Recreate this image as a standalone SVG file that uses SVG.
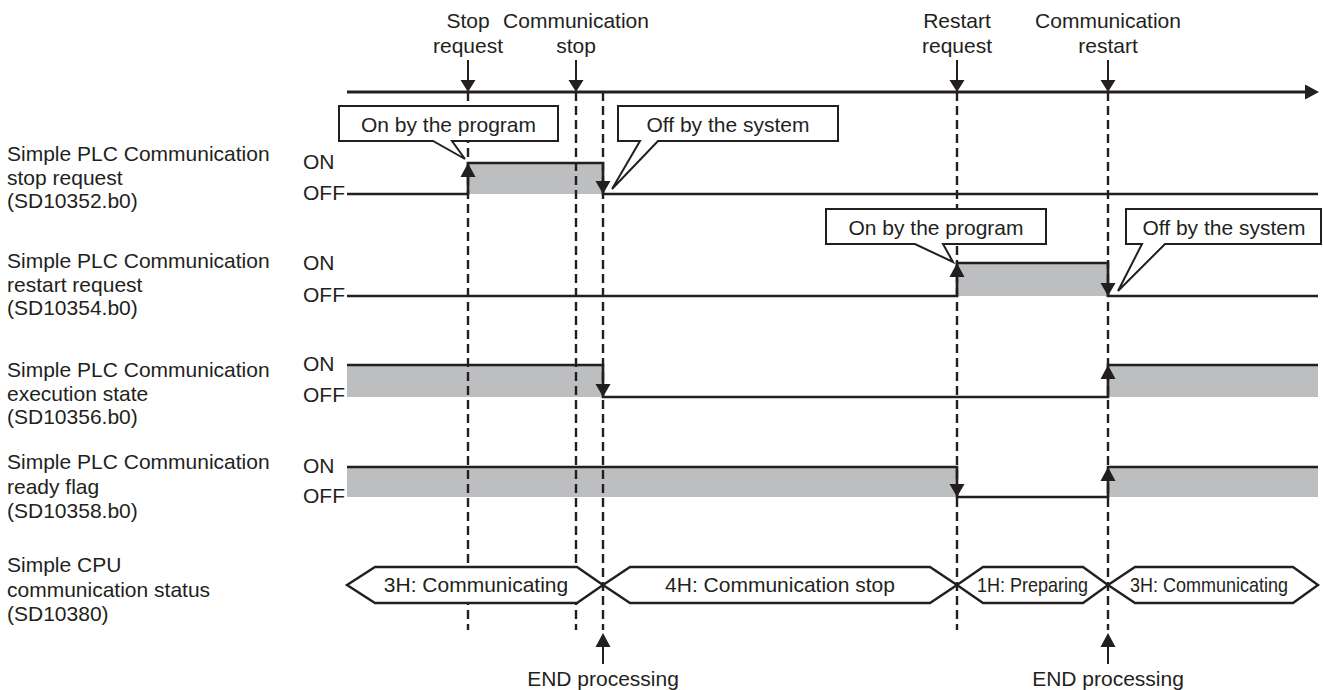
<svg xmlns="http://www.w3.org/2000/svg" width="1323" height="690" viewBox="0 0 1323 690">
<style>
text{font-family:"Liberation Sans",Arial,sans-serif;font-size:21px;fill:#231f20}
.c{text-anchor:middle}
.fill{fill:#bcbec0;stroke:none}
.sig{fill:none;stroke:#231f20;stroke-width:2.6}
.dash{fill:none;stroke:#231f20;stroke-width:2.4;stroke-dasharray:9 5}
.ah{fill:#231f20;stroke:none}
.box{fill:#fff;stroke:#231f20;stroke-width:2}
.bus{fill:#fff;stroke:#231f20;stroke-width:2.4;stroke-linejoin:miter}
.ln{stroke:#231f20;stroke-width:2}
</style>
<rect width="1323" height="690" fill="#fff"/>
<g id="labels">
<text x="7" y="161">Simple PLC Communication</text>
<text x="7" y="185">stop request</text>
<text x="7" y="208">(SD10352.b0)</text>
<text x="7" y="268">Simple PLC Communication</text>
<text x="7" y="292">restart request</text>
<text x="7" y="315">(SD10354.b0)</text>
<text x="7" y="377">Simple PLC Communication</text>
<text x="7" y="401">execution state</text>
<text x="7" y="424">(SD10356.b0)</text>
<text x="7" y="469">Simple PLC Communication</text>
<text x="7" y="494">ready flag</text>
<text x="7" y="518">(SD10358.b0)</text>
<text x="7" y="572">Simple CPU</text>
<text x="7" y="597">communication status</text>
<text x="7" y="621">(SD10380)</text>
<text x="303" y="169">ON</text>
<text x="303" y="200">OFF</text>
<text x="303" y="270">ON</text>
<text x="303" y="302">OFF</text>
<text x="303" y="371">ON</text>
<text x="303" y="402">OFF</text>
<text x="303" y="473">ON</text>
<text x="303" y="503">OFF</text>
</g>
<g id="fills">
<rect class="fill" x="468" y="163" width="135" height="31"/>
<rect class="fill" x="957" y="263" width="151" height="33"/>
<rect class="fill" x="347" y="365" width="256" height="32"/>
<rect class="fill" x="1108" y="365" width="210" height="32"/>
<rect class="fill" x="347" y="467" width="610" height="30"/>
<rect class="fill" x="1108" y="467" width="210" height="30"/>
</g>
<g id="connectors">
<line class="dash" x1="468" y1="92" x2="468" y2="630"/>
<line class="dash" x1="576" y1="92" x2="576" y2="630"/>
<line class="dash" x1="603" y1="92" x2="603" y2="630"/>
<line class="dash" x1="957" y1="92" x2="957" y2="630"/>
<line class="dash" x1="1108" y1="92" x2="1108" y2="630"/>
<line x1="347" y1="92" x2="1306" y2="92" stroke="#231f20" stroke-width="3"/>
<polygon class="ah" points="1305,84.5 1305,99.5 1319,92"/>
<line class="ln" x1="468" y1="60" x2="468" y2="81"/>
<polygon class="ah" points="460.5,80 475.5,80 468,92"/>
<line class="ln" x1="576" y1="60" x2="576" y2="81"/>
<polygon class="ah" points="568.5,80 583.5,80 576,92"/>
<line class="ln" x1="957" y1="60" x2="957" y2="81"/>
<polygon class="ah" points="949.5,80 964.5,80 957,92"/>
<line class="ln" x1="1108" y1="60" x2="1108" y2="81"/>
<polygon class="ah" points="1100.5,80 1115.5,80 1108,92"/>
<line class="ln" x1="603" y1="645" x2="603" y2="664"/>
<polygon class="ah" points="595.5,647 610.5,647 603,633"/>
<line class="ln" x1="1108" y1="645" x2="1108" y2="664"/>
<polygon class="ah" points="1100.5,647 1115.5,647 1108,633"/>
</g>
<g id="signals">
<polyline class="sig" points="347,194 468,194 468,163 603,163 603,194 1318,194"/>
<polygon class="ah" points="460.5,177 475.5,177 468,163"/>
<polygon class="ah" points="595.5,181 610.5,181 603,194"/>
<polyline class="sig" points="347,296 957,296 957,263 1108,263 1108,296 1318,296"/>
<polygon class="ah" points="949.5,277 964.5,277 957,263"/>
<polygon class="ah" points="1100.5,283 1115.5,283 1108,296"/>
<polyline class="sig" points="347,365 603,365 603,397 1108,397 1108,365 1318,365"/>
<polygon class="ah" points="595.5,384 610.5,384 603,397"/>
<polygon class="ah" points="1100.5,379 1115.5,379 1108,365"/>
<polyline class="sig" points="347,467 957,467 957,497 1108,497 1108,467 1318,467"/>
<polygon class="ah" points="949.5,484 964.5,484 957,497"/>
<polygon class="ah" points="1100.5,481 1115.5,481 1108,467"/>
</g>
<g id="callout-on-1">
<path class="box" d="M339,106 H558 V141 H452 L465,159 L433,141 H339 Z"/>
<text class="c" x="448.5" y="132">On by the program</text>
</g>
<g id="callout-off-1">
<path class="box" d="M618,106 H838 V141 H658 L612,189 L640,141 H618 Z"/>
<text class="c" x="728" y="132">Off by the system</text>
</g>
<g id="callout-on-2">
<path class="box" d="M826,209 H1046 V244 H943 L953,262 L915,244 H826 Z"/>
<text class="c" x="936" y="235">On by the program</text>
</g>
<g id="callout-off-2">
<path class="box" d="M1126,209 H1321 V244 H1165 L1118,291 L1142,244 H1126 Z"/>
<text class="c" x="1224" y="235">Off by the system</text>
</g>
<g id="bus-1">
<polygon class="bus" points="347,585 375,567 577,567 603,585 577,603 375,603"/>
<text class="c" x="476" y="592">3H: Communicating</text>
</g>
<g id="bus-2">
<polygon class="bus" points="603,585 630,567 930,567 957,585 930,603 630,603"/>
<text class="c" x="780" y="592">4H: Communication stop</text>
</g>
<g id="bus-3">
<polygon class="bus" points="957,585 983,567 1083,567 1108,585 1083,603 983,603"/>
<text class="c" x="1032.5" y="592" textLength="111" lengthAdjust="spacingAndGlyphs">1H: Preparing</text>
</g>
<g id="bus-4">
<polygon class="bus" points="1108,585 1135,567 1293,567 1318,585 1293,603 1135,603"/>
<text class="c" x="1209" y="592" textLength="158" lengthAdjust="spacingAndGlyphs">3H: Communicating</text>
</g>
<g id="top-labels">
<text class="c" x="468" y="28">Stop</text>
<text class="c" x="468" y="53">request</text>
<text class="c" x="576" y="28">Communication</text>
<text class="c" x="576" y="53">stop</text>
<text class="c" x="957" y="28">Restart</text>
<text class="c" x="957" y="53">request</text>
<text class="c" x="1108" y="28">Communication</text>
<text class="c" x="1108" y="53">restart</text>
</g>
<g id="end-labels">
<text class="c" x="603" y="686">END processing</text>
<text class="c" x="1108" y="686">END processing</text>
</g>
</svg>
